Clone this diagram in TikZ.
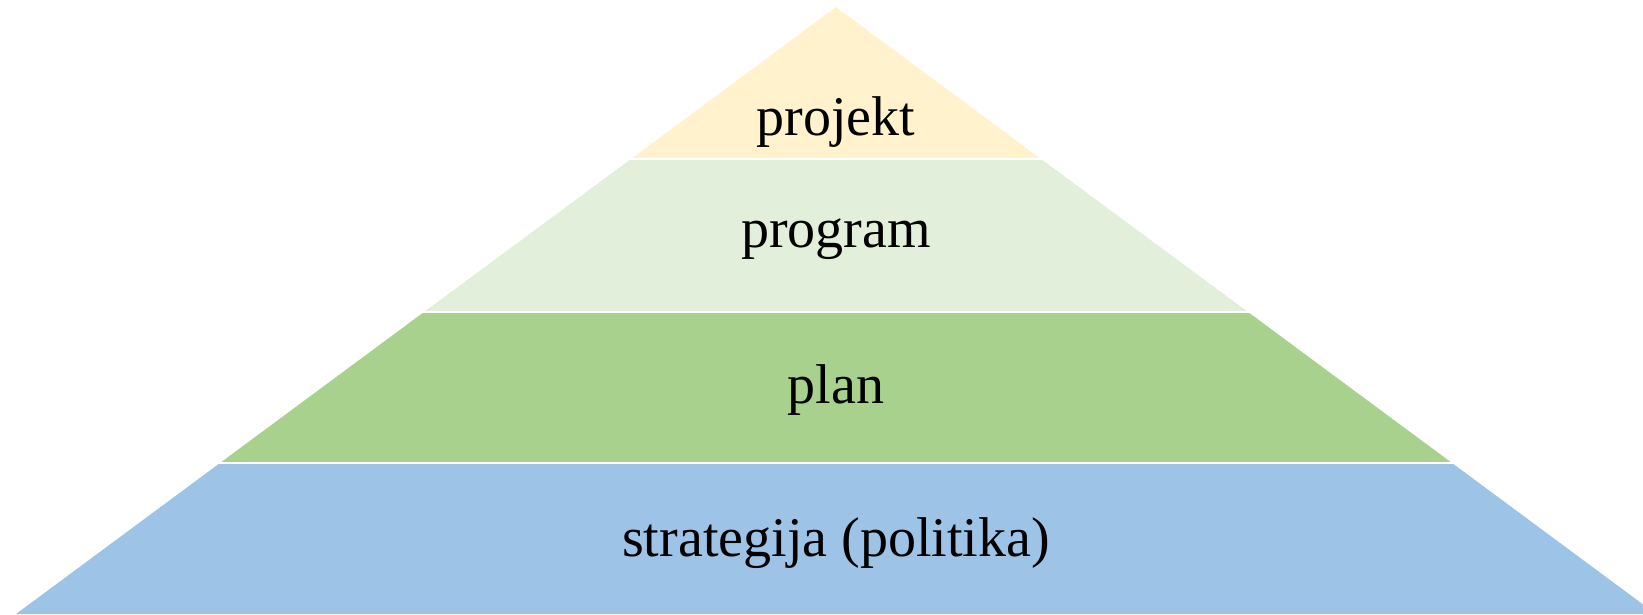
\documentclass[tikz,border=0pt]{standalone}
\usepackage{fontspec}
\setmainfont{Liberation Serif}
\usepackage{tikz}
\usetikzlibrary{positioning}

\definecolor{projektcol}{HTML}{FFF2CC}
\definecolor{programcol}{HTML}{E2EFDA}
\definecolor{plancol}{HTML}{A9D18E}
\definecolor{stratcol}{HTML}{9DC3E6}

\begin{document}
\begin{tikzpicture}[x=1pt, y=-1pt,
    every node/.style={font=\fontsize{56}{60}\selectfont, inner sep=0pt}]
    \useasboundingbox (0,0) rectangle (1643,614);
    \clip (0,0) rectangle (1643,614);

    \fill[projektcol] (836,7) -- (1041,159) -- (631,159) -- cycle;
    \fill[programcol] (631,159) -- (1041,159) -- (1248,312) -- (424,312) -- cycle;
    \fill[plancol] (424,312) -- (1248,312) -- (1452,463) -- (220,463) -- cycle;
    \fill[stratcol] (220,463) -- (1452,463) -- (1656,614) -- (16,614) -- cycle;

    % white gaps between bands
    \draw[white, line width=2pt] (600,159) -- (1070,159);
    \draw[white, line width=2pt] (400,312) -- (1280,312);
    \draw[white, line width=2pt] (190,463) -- (1480,463);

    \node (projekt) at (836,122) {projekt};
    \node (program) at (836,239) {program};
    \node (plan) at (836,390) {plan};
    \node (strategija) at (836,543) {strategija (politika)};
\end{tikzpicture}
\end{document}
